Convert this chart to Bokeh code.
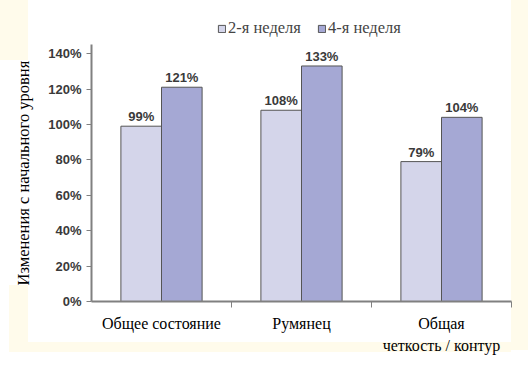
from bokeh.plotting import figure
from bokeh.models import Range1d, FixedTicker, Legend, LegendItem, ColumnDataSource, Title
from bokeh.core.properties import value
from bokeh.embed import file_html
from bokeh.resources import INLINE

categories = ["Общее состояние", "Румянец", "Общая\nчеткость / контур"]
series_names = ["2-я неделя", "4-я неделя"]
week2 = [99, 108, 79]
week4 = [121, 133, 104]
y_ticks = [0, 20, 40, 60, 80, 100, 120, 140]
y_tick_labels = ["0%", "20%", "40%", "60%", "80%", "100%", "120%", "140%"]
y_label = "Изменения с начального уровня"

colors = ["#D4D5EA", "#A5A8D4"]
bar_w = 0.29
cream = "#FFFBEB"

p = figure(width=528, height=369, output_backend="svg", toolbar_location=None,
           x_range=Range1d(0, len(categories)), y_range=Range1d(0, 163.2),
           min_border_left=91, min_border_right=17, min_border_top=12, min_border_bottom=68)
p.outline_line_color = None
p.grid.visible = False
p.background_fill_alpha = 0
p.border_fill_alpha = 0


def layer(color, x, y, w, h):
    return f"linear-gradient({color},{color}) {x}px {y}px / {w}px {h}px no-repeat"


p.styles = {"background": ", ".join([
    layer("#FFFFFF", 12, 60, 16, 225),
    layer("#FFFFFF", 28, 0, 483, 342),
    layer(cream, 0, 0, 28, 60),
    layer(cream, 9, 285, 19, 67),
    layer(cream, 9, 342, 502, 10),
    layer(cream, 511, 0, 17, 350),
]) + ", #FFFFFF"}

idx = list(range(len(categories)))
renderers = []
for k, (vals, col) in enumerate(zip([week2, week4], colors)):
    xs = [i + 0.5 + (k - 0.5) * bar_w for i in idx]
    src = ColumnDataSource(dict(x=xs, top=vals, lab=[f"{v}%" for v in vals]))
    r = p.vbar(x="x", top="top", width=bar_w, source=src, fill_color=col,
               line_color="#555555", line_width=1)
    renderers.append(r)
    p.text(x="x", y="top", text="lab", source=src, text_align="center",
           text_baseline="bottom", y_offset=-2, text_font_size="13px",
           text_font=value("Liberation Sans"), text_font_style="bold", text_color="#3a3a3a")

# x axis: labels at category centers, ticks at boundaries
xa = p.xaxis[0]
xa.ticker = FixedTicker(ticks=[i + 0.5 for i in idx], minor_ticks=[i for i in range(1, len(categories) + 1)])
xa.major_label_overrides = {i + 0.5: c for i, c in zip(idx, categories)}
xa.major_tick_out = 0
xa.major_tick_in = 0
xa.minor_tick_out = 6
xa.minor_tick_in = 0
xa.minor_tick_line_color = "#808080"
xa.axis_line_color = "#808080"
xa.axis_line_width = 2
xa.major_label_text_font = "Liberation Serif"
xa.major_label_text_font_size = "16px"
xa.major_label_text_color = "black"
xa.major_label_standoff = 7
xa.major_label_text_line_height = 1.3

ya = p.yaxis[0]
ya.ticker = FixedTicker(ticks=y_ticks)
ya.bounds = (0, 145)
ya.major_label_overrides = {t: l for t, l in zip(y_ticks, y_tick_labels)}
ya.minor_tick_out = 0
ya.minor_tick_in = 0
ya.major_tick_out = 5
ya.major_tick_in = 0
ya.major_tick_line_color = "#808080"
ya.axis_line_color = "#808080"
ya.axis_line_width = 2
ya.major_label_text_font = "Liberation Sans"
ya.major_label_text_font_style = "bold"
ya.major_label_text_font_size = "13px"
ya.major_label_text_color = "#3a3a3a"
ya.major_label_standoff = 5

ytitle = Title(text=y_label, align="left", vertical_align="top", offset=16, standoff=22,
               text_font="Liberation Serif", text_font_style="normal",
               text_font_size="16.5px", text_color="black")
p.add_layout(ytitle, "left")

legend = Legend(items=[LegendItem(label=n, renderers=[r]) for n, r in zip(series_names, renderers)],
                orientation="horizontal", location=(126, 263), glyph_width=9, glyph_height=9,
                label_text_font="Liberation Serif", label_text_font_size="16.5px",
                label_standoff=2, spacing=16, padding=0, margin=0,
                border_line_color=None, background_fill_alpha=0)
p.add_layout(legend)

open("out.html", "w").write(file_html(p, INLINE))
